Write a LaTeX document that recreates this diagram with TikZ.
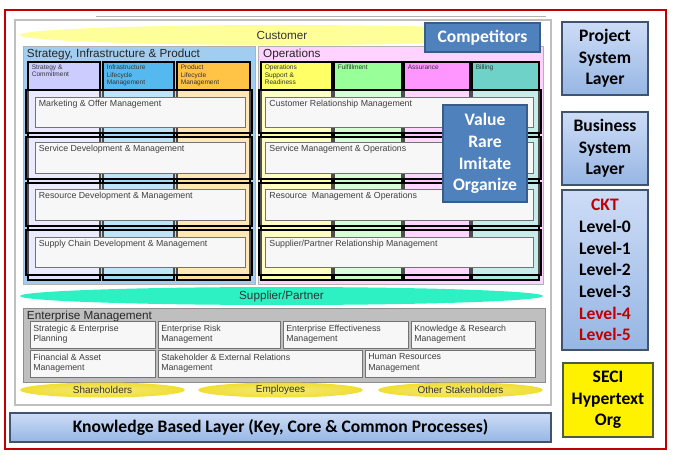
\documentclass[tikz,border=0pt]{standalone}
\usepackage{fontspec}
\setmainfont{Liberation Sans}
\newfontfamily\calibri{Carlito}
\usepackage{tikz}
\usetikzlibrary{positioning,fit,shapes.geometric}
\definecolor{levelred}{RGB}{192,0,0}
\definecolor{custyellow}{RGB}{255,255,153}
\definecolor{suppgreen}{RGB}{45,240,195}
\definecolor{stratblue}{RGB}{160,205,240}
\definecolor{opspink}{RGB}{255,210,255}
\definecolor{lavender}{RGB}{204,204,255}
\definecolor{infblue}{RGB}{85,185,240}
\definecolor{prodorange}{RGB}{255,195,70}
\definecolor{opsyellow}{RGB}{255,255,102}
\definecolor{fulgreen}{RGB}{153,255,153}
\definecolor{asspink}{RGB}{255,150,255}
\definecolor{billteal}{RGB}{110,210,200}
\definecolor{entgrey}{RGB}{191,191,191}
\definecolor{stakeyellow}{RGB}{240,222,50}
\definecolor{boxblue}{RGB}{79,129,189}
\definecolor{boxedge}{RGB}{56,93,138}
\definecolor{layertop}{RGB}{205,220,246}
\definecolor{layerbot}{RGB}{150,182,228}
\definecolor{layeredge}{RGB}{64,84,112}
\definecolor{seciedge}{RGB}{80,90,60}
\def\lvred{\textcolor{levelred}}
\tikzset{redframe/.style={rectangle, draw=levelred, line width=1.3pt, inner sep=0pt}}
\tikzset{mainpanel/.style={rectangle, draw=black!25, fill=white, line width=1pt, inner sep=0pt}}
\tikzset{areabox/.style={rectangle, draw=black!30, fill=#1, line width=0.6pt, inner sep=0pt}}
\tikzset{colbox/.style={rectangle, draw=black, fill=#1!55, line width=0.9pt, inner sep=0pt}}
\tikzset{headbox/.style={rectangle, draw=black, fill=#1, line width=0.9pt, inner sep=0pt}}
\tikzset{rowframe/.style={rectangle, draw=black, line width=1.4pt, fill=white,
  fill opacity=0.3, inner sep=0pt}}
\tikzset{procbox/.style={rectangle, draw=black!55, fill=black!3, line width=0.8pt, inner sep=0pt}}
\tikzset{proctxt/.style={inner sep=1pt, align=left, text=black!75, font=\fontsize{7.5}{9}\selectfont}}
\tikzset{headtxt/.style={inner sep=0.5pt, align=left, text=black!80, font=\fontsize{5.6}{6.6}\selectfont}}
\tikzset{titletxt/.style={inner sep=1pt, text=black!85, font=\fontsize{10}{12}\selectfont}}
\tikzset{ovalband/.style={ellipse, inner sep=0pt, fill=#1, text=black!80, font=\fontsize{10}{12}\selectfont}}
\tikzset{stakeoval/.style={ellipse, inner sep=0pt, inner color=stakeyellow!65, outer color=stakeyellow,
  minimum width=4.95cm, minimum height=0.45cm, text=black!80, font=\fontsize{8.5}{10}\selectfont}}
\tikzset{darkbox/.style={rectangle, draw=boxedge, fill=boxblue, line width=1.2pt, inner sep=0pt}}
\tikzset{layerbox/.style={rectangle, draw=layeredge, line width=1.3pt, top color=layertop,
  bottom color=layerbot, inner sep=0pt}}
\tikzset{secibox/.style={rectangle, draw=seciedge, fill=yellow, line width=1.3pt, inner sep=0pt}}
\tikzset{bigtxt/.style={inner sep=0pt, align=center, font=\calibri\bfseries\fontsize{15}{18.5}\selectfont}}

\begin{document}
\begin{tikzpicture}[x=0.03cm, y=-0.03cm]
  \useasboundingbox (0,0) rectangle (676,455);
  \node[redframe, fit={(5,10)(666,449)}] (frame) {};
  \node[mainpanel, fit={(15,20)(551,405)}] (main) {};
  \draw[black!30, line width=0.8pt] (main.north west) ++(82,-3) -- ++(450,0);

  % top panels
  \node[areabox=stratblue, fit={(23,46)(255,284)}] (strat) {};
  \node[areabox=opspink, fit={(258,46)(543,284)}] (ops) {};
  \node[titletxt, below right=1.5pt and 2.5pt of strat.north west] (strat-t) {Strategy, Infrastructure \& Product};
  \node[titletxt, below right=1.5pt and 3.5pt of ops.north west] (ops-t) {Operations};

  % columns
  \node[colbox=lavender, fit={(28,62)(100,280)}] (sc) {};
  \node[colbox=infblue, fit={(103,62)(174,280)}] (ic) {};
  \node[colbox=prodorange, fit={(177,62)(250,280)}] (pc) {};
  \node[colbox=opsyellow, fit={(261,62)(332,280)}] (oc) {};
  \node[colbox=fulgreen, fit={(334,62)(402,280)}] (fc) {};
  \node[colbox=asspink, fit={(404,62)(470,280)}] (ac) {};
  \node[colbox=billteal, fit={(472,62)(539,280)}] (bc) {};
  \node[headbox=lavender, fit={(28,62)(100,90)}] (sh) {};
  \node[headbox=infblue, fit={(103,62)(174,90)}] (ih) {};
  \node[headbox=prodorange, fit={(177,62)(250,90)}] (ph) {};
  \node[headbox=opsyellow, fit={(261,62)(332,90)}] (oh) {};
  \node[headbox=fulgreen, fit={(334,62)(402,90)}] (fh) {};
  \node[headbox=asspink, fit={(404,62)(470,90)}] (ah) {};
  \node[headbox=billteal, fit={(472,62)(539,90)}] (bh) {};
  \node[headtxt, below right=2pt and 3pt of sh.north west] (sh-t) {Strategy \&\\Commitment};
  \node[headtxt, below right=2pt and 3pt of ih.north west] (ih-t) {Infrastructure\\Lifecycle\\Management};
  \node[headtxt, below right=2pt and 3pt of ph.north west] (ph-t) {Product\\Lifecycle\\Management};
  \node[headtxt, below right=2pt and 3pt of oh.north west] (oh-t) {Operations\\Support \&\\Readiness};
  \node[headtxt, below right=2pt and 3pt of fh.north west] (fh-t) {Fulfillment};
  \node[headtxt, below right=2pt and 3pt of ah.north west] (ah-t) {Assurance};
  \node[headtxt, below right=2pt and 3pt of bh.north west] (bh-t) {Billing};

  % process rows
  \node[rowframe, fit={(26,90)(252,133)}] (sr1) {};
  \node[rowframe, fit={(26,137)(252,179)}] (sr2) {};
  \node[rowframe, fit={(26,183)(252,226)}] (sr3) {};
  \node[rowframe, fit={(26,230)(252,275)}] (sr4) {};
  \node[rowframe, fit={(259,90)(541,133)}] (or1) {};
  \node[rowframe, fit={(259,137)(541,179)}] (or2) {};
  \node[rowframe, fit={(259,183)(541,226)}] (or3) {};
  \node[rowframe, fit={(259,230)(541,275)}] (or4) {};
  \node[procbox, fit={(35,97)(245,127)}] (mkt) {};
  \node[procbox, fit={(35,142)(245,173)}] (sdm) {};
  \node[procbox, fit={(35,189)(245,220)}] (rdm) {};
  \node[procbox, fit={(35,237)(245,267)}] (scm) {};
  \node[procbox, fit={(265,97)(533,127)}] (crm) {};
  \node[procbox, fit={(265,142)(533,173)}] (smo) {};
  \node[procbox, fit={(265,189)(533,220)}] (rmo) {};
  \node[procbox, fit={(265,237)(533,267)}] (sprm) {};
  \node[proctxt, below right=2pt and 2.5pt of mkt.north west] (mkt-t) {Marketing \& Offer Management};
  \node[proctxt, below right=2pt and 2.5pt of sdm.north west] (sdm-t) {Service Development \& Management};
  \node[proctxt, below right=2pt and 2.5pt of rdm.north west] (rdm-t) {Resource Development \& Management};
  \node[proctxt, below right=2pt and 2.5pt of scm.north west] (scm-t) {Supply Chain Development \& Management};
  \node[proctxt, below right=2pt and 3pt of crm.north west] (crm-t) {Customer Relationship Management};
  \node[proctxt, below right=2pt and 3pt of smo.north west] (smo-t) {Service Management \& Operations};
  \node[proctxt, below right=2pt and 3pt of rmo.north west] (rmo-t) {Resource\ \ Management \& Operations};
  \node[proctxt, below right=2pt and 3pt of sprm.north west] (sprm-t) {Supplier/Partner Relationship Management};

  % customer and overlays
  \node[ovalband=custyellow, minimum width=15.72cm, minimum height=0.6cm] (cust) at (282,35) {Customer};
  \node[darkbox, fit={(425,23)(540,52)}] (comp) {};
  \node[bigtxt, text=white] (comp-t) at (comp) {Competitors};
  \node[darkbox, fit={(443,105)(527,202)}] (vrio) {};
  \node[bigtxt, text=white] (vrio-t) at (vrio) {Value\\Rare\\Imitate\\Organize};
  \node[ovalband=suppgreen, minimum width=15.69cm, minimum height=0.54cm] (supp) at (281.5,296) {Supplier/Partner};

  % enterprise management
  \node[areabox=entgrey, draw=black!45, fit={(23,308)(545,382)}] (ent) {};
  \node[titletxt, below right=1.5pt and 2.5pt of ent.north west] (ent-t) {Enterprise Management};
  \node[procbox, fit={(30,321)(155,348)}] (sep) {};
  \node[procbox, fit={(158,321)(280,348)}] (erm) {};
  \node[procbox, fit={(283,321)(408,348)}] (eem) {};
  \node[procbox, fit={(411,321)(535,348)}] (krm) {};
  \node[procbox, fit={(30,350)(155,377)}] (fam) {};
  \node[procbox, fit={(158,350)(362,377)}] (serm) {};
  \node[procbox, fit={(365,350)(535,377)}] (hrm) {};
  \node[proctxt, below right=2.5pt and 2pt of sep.north west] (sep-t) {Strategic \& Enterprise\\Planning};
  \node[proctxt, below right=2.5pt and 2pt of erm.north west] (erm-t) {Enterprise Risk\\Management};
  \node[proctxt, below right=2.5pt and 2pt of eem.north west] (eem-t) {Enterprise Effectiveness\\Management};
  \node[proctxt, below right=2.5pt and 2pt of krm.north west] (krm-t) {Knowledge \& Research\\Management};
  \node[proctxt, below right=2.5pt and 2pt of fam.north west] (fam-t) {Financial \& Asset\\Management};
  \node[proctxt, below right=2.5pt and 2pt of serm.north west] (serm-t) {Stakeholder \& External Relations\\Management};
  \node[proctxt, below right=2.5pt and 2pt of hrm.north west] (hrm-t) {Human Resources\\Management};
  \node[stakeoval] (share) at (102.5,390) {Shareholders};
  \node[stakeoval] (empl) at (280.5,390) {Employees};
  \node[stakeoval] (other) at (460.5,390) {Other Stakeholders};

  % layers
  \node[layerbox, fit={(10,413)(551,442)}] (know) {};
  \node[bigtxt] (know-t) at (know) {Knowledge Based Layer (Key, Core \& Common Processes)};
  \node[layerbox, fit={(562,22)(648,95)}] (proj) {};
  \node[bigtxt] (proj-t) at (proj) {Project\\System\\Layer};
  \node[layerbox, fit={(562,112)(648,185)}] (bus) {};
  \node[bigtxt] (bus-t) at (bus) {Business\\System\\Layer};
  \node[layerbox, fit={(562,190)(648,350)}] (ckt) {};
  \node[bigtxt] (ckt-t) at (ckt)
    {\lvred{CKT}\\Level-0\\Level-1\\Level-2\\Level-3\\\lvred{Level-4}\\\lvred{Level-5}};
  \node[secibox, fit={(563,363)(653,437)}] (seci) {};
  \node[bigtxt] (seci-t) at (seci) {SECI\\Hypertext\\Org};
\end{tikzpicture}
\end{document}
